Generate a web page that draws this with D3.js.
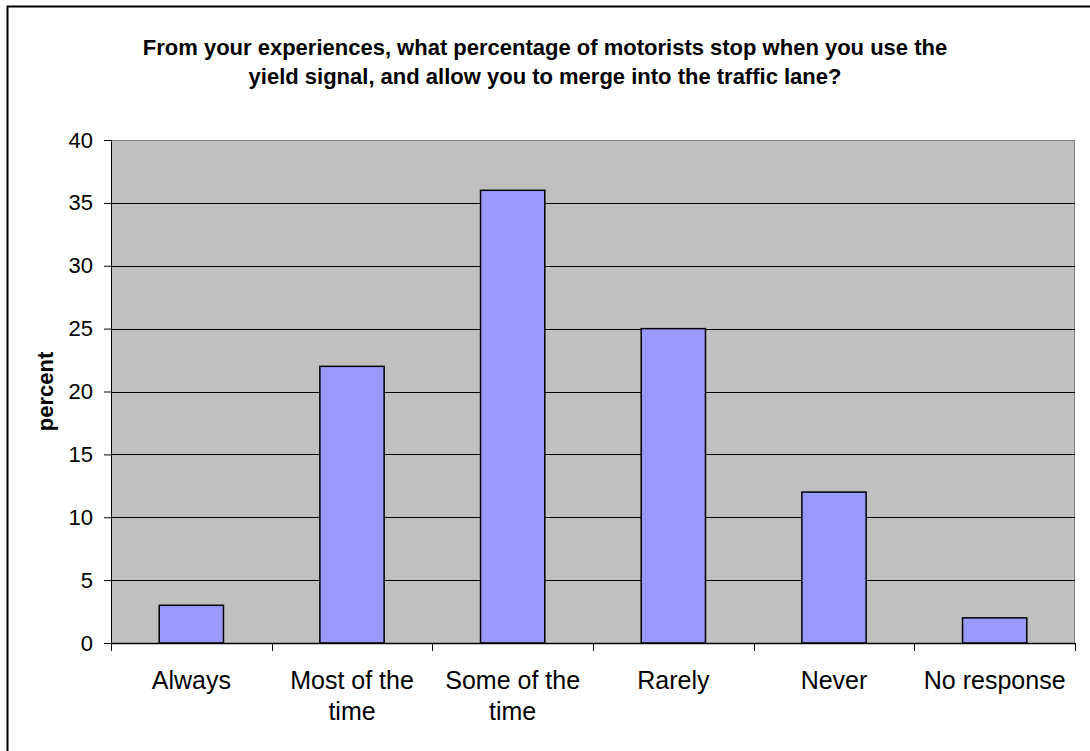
<!DOCTYPE html>
<meta charset="utf-8">
<head>
<title>yield signal survey</title>
<style>
body { margin: 0; background: #fff; }
svg { display: block; }
.title { font: bold 22px "Liberation Sans", Arial, sans-serif; fill: #000; text-anchor: middle; }
.ylabel { font: bold 22px "Liberation Sans", Arial, sans-serif; fill: #000; text-anchor: middle; }
.axis--y text { font: 22px "Liberation Sans", Arial, sans-serif; fill: #000; }
.catlabel { font: 25px "Liberation Sans", Arial, sans-serif; fill: #000; text-anchor: middle; }
</style>
</head>
<body>
<svg width="1090" height="751"></svg>

<script src="https://d3js.org/d3.v7.min.js"></script>
<script>

var categories = ["Always", "Most of the time", "Some of the time", "Rarely", "Never", "No response"];
var percents = [3, 22, 36, 25, 12, 2];
var yTicks = [0, 5, 10, 15, 20, 25, 30, 35, 40];
var titleLines = [
  "From your experiences, what percentage of motorists stop when you use the",
  "yield signal, and allow you to merge into the traffic lane?"
];

var svg = d3.select("svg"),
    margin = {top: 140, right: 15, bottom: 108, left: 111},
    width = +svg.attr("width") - margin.left - margin.right,
    height = +svg.attr("height") - margin.top - margin.bottom;

// outer chart border (only top and left edges fall inside the picture)
svg.append("rect")
    .attr("x", 7.5).attr("y", 6.5)
    .attr("width", 2000).attr("height", 2000)
    .attr("fill", "none")
    .attr("stroke", "#000")
    .attr("stroke-width", 2);

var x = d3.scaleBand()
    .domain(categories)
    .range([0, width])
    .paddingInner(0.6)
    .paddingOuter(0.3);

var y = d3.scaleLinear()
    .domain([0, 40])
    .range([height, 0]);

var g = svg.append("g")
    .attr("transform", "translate(" + margin.left + "," + margin.top + ")");

// plot area
g.append("rect")
    .attr("width", width)
    .attr("height", height)
    .attr("fill", "#c0c0c0");

// top and right edges of plot area
g.append("path")
    .attr("d", "M0,0.5H" + (width - 0.5) + "V" + height)
    .attr("fill", "none")
    .attr("stroke", "#808080")
    .attr("stroke-width", 1);

// gridlines
g.selectAll(".grid")
  .data(yTicks.filter(function(d) { return d > 0 && d < 40; }))
  .enter().append("line")
    .attr("class", "grid")
    .attr("x1", 0).attr("x2", width)
    .attr("y1", function(d) { return Math.round(y(d)) + 0.5; })
    .attr("y2", function(d) { return Math.round(y(d)) + 0.5; })
    .attr("stroke", "#000")
    .attr("stroke-width", 1);

// bars
g.selectAll(".bar")
  .data(percents)
  .enter().append("rect")
    .attr("class", "bar")
    .attr("x", function(d, i) { return x(categories[i]); })
    .attr("y", function(d) { return y(d); })
    .attr("width", x.bandwidth())
    .attr("height", function(d) { return height - y(d); })
    .attr("fill", "#9999ff")
    .attr("stroke", "#000")
    .attr("stroke-width", 1.5);

// y axis
var yAxis = g.append("g")
    .attr("class", "axis axis--y")
    .call(d3.axisLeft(y).tickValues(yTicks).tickSize(7).tickPadding(11));
yAxis.select(".domain").attr("stroke", "#000");
yAxis.selectAll(".tick line").attr("stroke", "#000");

// x axis line and ticks at category boundaries
var step = x.step();
var bounds = d3.range(categories.length + 1).map(function(i) { return x.range()[0] + i * step; });

g.append("line")
    .attr("x1", 0).attr("x2", width)
    .attr("y1", height + 0.5).attr("y2", height + 0.5)
    .attr("stroke", "#000")
    .attr("stroke-width", 1.5);

g.selectAll(".xtick")
  .data(bounds)
  .enter().append("line")
    .attr("class", "xtick")
    .attr("x1", function(d) { return Math.round(d) + 0.5; })
    .attr("x2", function(d) { return Math.round(d) + 0.5; })
    .attr("y1", height)
    .attr("y2", height + 8)
    .attr("stroke", "#000");

// category labels, wrapped
var labels = g.selectAll(".catlabel")
  .data(categories)
  .enter().append("text")
    .attr("class", "catlabel")
    .attr("x", function(d) { return x(d) + x.bandwidth() / 2; })
    .attr("y", height + 46);

labels.each(function(d) {
  var text = d3.select(this),
      words = d.split(" "),
      line = [],
      cx = text.attr("x"),
      tspan = text.append("tspan").attr("x", cx).attr("dy", 0);
  words.forEach(function(w) {
    line.push(w);
    tspan.text(line.join(" "));
    if (tspan.node().getComputedTextLength() > step - 10 && line.length > 1) {
      line.pop();
      tspan.text(line.join(" "));
      line = [w];
      tspan = text.append("tspan").attr("x", cx).attr("dy", 31).text(w);
    }
  });
});

// title
svg.selectAll(".title")
  .data(titleLines)
  .enter().append("text")
    .attr("class", "title")
    .attr("x", 545)
    .attr("y", function(d, i) { return 55 + i * 29; })
    .text(function(d) { return d; });

// y axis label
svg.append("text")
    .attr("class", "ylabel")
    .attr("transform", "translate(53," + (margin.top + height / 2) + ") rotate(-90)")
    .text("percent");

</script>
</body>
